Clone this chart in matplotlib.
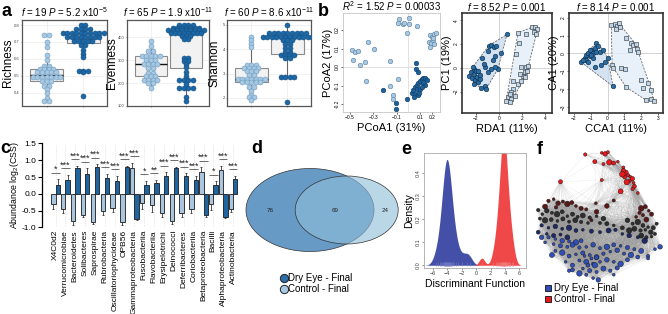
import numpy as np
import matplotlib
matplotlib.use('Agg')
import matplotlib.pyplot as plt
from matplotlib.patches import Ellipse, Polygon
from matplotlib.collections import LineCollection
from matplotlib.lines import Line2D

plt.rcParams['font.family'] = ['Liberation Sans', 'DejaVu Sans']
plt.rcParams['mathtext.fontset'] = 'custom'
plt.rcParams['mathtext.rm'] = 'Liberation Sans'
plt.rcParams['mathtext.it'] = 'Liberation Sans:italic'

# ---------------- data ----------------
# a: alpha diversity (control = light, dry eye = dark)
rich_ctrl = [0.74, 0.74, 0.70, 0.67, 0.62, 0.59, 0.56, 0.56, 0.54, 0.54, 0.54, 0.54,
             0.52, 0.52, 0.52, 0.52, 0.52, 0.49, 0.49, 0.49, 0.49, 0.49, 0.49, 0.49,
             0.47, 0.47, 0.47, 0.44, 0.44, 0.42, 0.40, 0.37, 0.35, 0.35]
rich_dry = [0.80] * 2 + [0.775] * 4 + [0.75] * 10 + [0.73] * 8 + [0.705] * 5 + [0.68] * 2 + \
           [0.65, 0.63, 0.61, 0.53, 0.53, 0.53, 0.52, 0.38]
even_ctrl = [385, 360, 340, 340] + [320] * 5 + [300] * 3 + [285] * 4 + [265] * 2 + [245] * 2 + \
            [230] * 3 + [215] * 4 + [200] * 2 + [180]
even_dry = [455] * 4 + [442] * 7 + [430] * 9 + [418] * 8 + [405] * 3 + [390] * 2 + \
           [310, 310, 298, 298, 285, 270, 250, 230, 215, 215, 215, 215, 197,
            178, 178, 178, 178, 140, 122]
shan_ctrl = [4.5, 4.37, 4.22, 4.08] + [3.36] * 3 + [3.25] * 4 + [3.1] * 3 + [2.95] * 2 + \
            [2.78] * 7 + [2.64] * 5 + [2.47] * 2 + [2.3, 2.13, 2.03, 2.03, 1.92]
shan_dry = [5.0] + [4.66] * 9 + [4.52] * 12 + [4.36] * 3 + [4.22] * 2 + [4.04] * 2 + \
           [3.9] * 2 + [3.77] * 4 + [3.63] * 2 + [2.85] * 4 + [1.85]
alpha_titles = [r'$\it{f}$ = 19 $\it{P}$ = 5.2 x10$^{-5}$',
                r'$\it{f}$ = 65 $\it{P}$ = 1.9 x10$^{-11}$',
                r'$\it{f}$ = 60 $\it{P}$ = 8.6 x10$^{-11}$']

# b: ordinations
pcoa_ctrl_x = [-0.077, 0.006, -0.085, -0.048, -0.037, 0.009, 0.077, -0.014, 0.185, 0.199,
               0.219, 0.236, 0.179, 0.193, 0.213, 0.185, 0.222, 0.208, -0.482, -0.454,
               -0.426, -0.468, -0.411, -0.369, -0.341, -0.292, -0.363, -0.156, -0.085,
               -0.156, -0.133, -0.128]
pcoa_ctrl_y = [0.258, 0.263, 0.236, 0.232, 0.236, 0.232, 0.221, 0.186, 0.173, 0.164,
               0.178, 0.182, 0.137, 0.128, 0.146, 0.110, 0.124, 0.155, 0.092, 0.083,
               0.088, 0.038, 0.011, 0.029, 0.137, 0.097, -0.076, 0.032, -0.065,
               -0.103, -0.151, -0.173]
pcoa_dry_x = [0.066, 0.066, 0.086, 0.029, 0.043, 0.057, 0.072, 0.086, 0.100, 0.114, 0.128,
              0.142, 0.157, 0.077, 0.057, 0.086, 0.100, 0.128, 0.142, 0.114, 0.094, 0.123,
              0.048, -0.218, -0.105, -0.105, -0.008]
pcoa_dry_y = [0.020, -0.013, -0.025, -0.138, -0.124, -0.110, -0.097, -0.085, -0.076, -0.067,
              -0.061, -0.058, -0.070, -0.121, -0.146, -0.151, -0.121, -0.088, -0.097, -0.106,
              -0.139, -0.079, -0.160, -0.124, -0.196, -0.229, -0.175]

rda_dry_x = [-2.55, -2.41, -2.35, -2.17, -2.12, -2.06, -1.97, -1.88, -1.83, -2.26, -1.68,
             -1.77, -1.60, -2.12, -1.54, -1.25, -0.96, -0.72, -1.25, -0.52, -0.90, -0.67,
             -0.46, -0.23, -0.96, -0.38, 0.19, 0.70, -0.09, -0.38, -1.30, -1.48, -1.10]
rda_dry_y = [-0.67, -0.39, -0.86, -0.11, -0.53, -1.03, -0.31, -0.75, -1.22, 0.08, -0.94,
             -0.25, -0.58, -1.36, -1.69, -1.50, -0.39, -0.11, 0.03, 0.64, 1.83, 1.92,
             1.75, 1.83, 1.42, 1.00, 1.28, 2.81, -0.11, 0.03, 0.31, 0.86, -1.78]
rda_ctrl_x = [1.65, 2.90, 3.10, 3.33, 3.04, 3.25, 2.38, 1.71, 1.51, 1.88, 2.23, 2.38, 2.46,
              2.09, 1.80, 1.65, 1.22, 1.01, 0.78, 1.07, 0.93, 0.64, 1.36, 0.93, 2.52, 2.23,
              1.94, 1.22]
rda_ctrl_y = [2.94, 3.42, 3.42, 3.22, 3.03, 2.86, 2.81, 2.11, 1.14, 0.08, -0.39, 0.03, -0.25,
              -0.67, -0.53, -1.36, -1.78, -2.06, -2.47, -2.61, -2.89, -2.75, -2.33, -2.19,
              0.17, -0.81, -1.08, -1.08]
cca_dry_x = [-1.57, -1.37, -1.27, -1.17, -1.07, -0.97, -0.87, -0.77, -0.67, -0.57, -0.67,
             -1.07, -1.27, -0.87, -0.48, -0.28, -1.47, -0.97, -1.17, -0.77, 0.33, -0.18,
             -0.38, 0.01]
cca_dry_y = [-0.50, -0.27, -0.08, 0.05, -0.17, 0.20, 0.01, 0.29, 0.61, 0.39, 0.10, 0.20,
             -0.36, -0.27, 0.10, 0.20, -0.36, -0.08, -0.46, -0.74, -1.86, -0.46, -0.65, -0.27]
cca_ctrl_x = [0.22, 0.42, 0.56, 0.67, 0.75, 0.48, 1.11, 1.41, 1.51, 1.67, 1.75, 1.80, 1.31,
              0.27, 0.35, 1.01, 1.99, 2.40, 2.60, 2.10, 2.26, 2.60, 2.74, 1.11, 0.81]
cca_ctrl_y = [1.60, 1.66, 1.54, 1.69, 1.51, 1.36, 0.85, 0.57, 0.48, 0.53, 0.23, 0.10, 0.20,
              -0.65, -0.83, -0.89, -1.49, -1.64, -2.05, -1.95, -2.61, -2.55, -2.65, -1.90, -0.83]

# c: differential abundance per class
taxa = ['X4C0d2', 'Verrucomicrobiae', 'Bacteroidetes', 'Solibacteres', 'Saprospirae',
        'Rubrobacteria', 'Oscillatoriophycideae', 'OPB56', 'Gammaproteobacteria',
        'Fusobacteriia', 'Flavobacteriia', 'Erysipelotrichi', 'Deinococci',
        'Deferribacteres', 'Coriobacteriia', 'Betaproteobacteria', 'Bacilli',
        'Alphaproteobacteria', 'Actinobacteria']
abund_ctrl = [-0.29, -0.46, -0.82, -0.63, -0.85, -0.50, -0.42, -0.84, 0.78, -0.27, -0.33,
              -0.56, -0.80, -0.58, -0.44, 0.66, -0.29, 0.72, -0.45]
abund_dry = [0.26, 0.40, 0.78, 0.59, 0.80, 0.46, 0.39, 0.80, -0.74, 0.26, 0.31, 0.52, 0.76,
             0.53, 0.41, -0.62, 0.27, -0.68, 0.43]
err_ctrl = [0.15, 0.10, 0.10, 0.06, 0.06, 0.13, 0.13, 0.08, 0.14, 0.18, 0.20, 0.12, 0.10,
            0.10, 0.14, 0.13, 0.20, 0.12, 0.08]
err_dry = [0.17, 0.17, 0.06, 0.17, 0.08, 0.13, 0.14, 0.04, 0.05, 0.12, 0.10, 0.12, 0.04,
           0.08, 0.13, 0.08, 0.10, 0.04, 0.10]
signif = ['*', '***', '***', '***', '***', '***', '***', '***', '***', '*', '**', '***',
          '***', '***', '***', '***', '*', '***', '***']

# d: shared OTUs
venn_counts = [76, 69, 24]
venn_labels = ['Dry Eye - Final', 'Control - Final']

# e: discriminant scores
lda_dry = [-5.6, -5.2, -4.95, -4.8, -4.65, -4.55, -4.45, -4.4, -4.35, -4.3, -4.25, -4.2,
           -4.15, -4.1, -4.05, -4.0, -4.0, -3.95, -3.9, -3.85, -3.8, -3.75, -3.7, -3.65,
           -3.6, -3.5, -3.4, -3.3, -3.15, -3.0, -2.8, -2.5, -1.9, -1.3, -0.9]
lda_ctrl = [0.8, 2.4, 2.75, 2.95, 3.05, 3.15, 3.25, 3.35, 3.4, 3.5, 3.55, 3.6, 3.65,
            3.7, 3.75, 3.78, 3.8, 3.82, 3.85, 3.88, 3.9, 3.95, 4.0, 4.05, 4.1, 4.2, 4.25,
            4.3, 4.4, 4.5, 4.6, 4.75, 4.9, 5.15]

# f: co-occurrence network layout (node positions per colour class)
net_red_x = [437, 485, 495, 503, 507, 520, 532, 465, 548, 555, 562, 568, 574, 566, 558, 552,
             578, 365, 485, 540, 575, 590, 548, 490, 545, 580]
net_red_y = [47, 42, 45, 40, 70, 72, 68, 68, 85, 100, 108, 112, 118, 125, 128, 113, 130, 127,
             122, 155, 148, 160, 95, 75, 105, 140]
net_dred_x = [330, 345, 358, 372, 385, 398, 410, 425, 440, 320, 352, 468, 500, 520, 600, 612,
              622, 630, 605, 615, 595, 585, 470, 455]
net_dred_y = [183, 178, 190, 185, 192, 188, 198, 205, 208, 200, 202, 190, 198, 182, 205, 200,
              212, 222, 225, 238, 218, 230, 215, 240]
net_black_x = [300, 312, 325, 340, 355, 370, 385, 400, 415, 430, 450, 470, 490, 305, 320, 338,
               356, 372, 390, 408, 425, 445, 560, 575, 590, 605, 620, 635, 645, 580, 598, 612,
               628, 640, 565, 545, 520, 500, 480, 600, 615, 630]
net_black_y = [210, 222, 212, 218, 222, 215, 228, 222, 230, 226, 232, 228, 235, 235, 240, 238,
               242, 236, 244, 240, 245, 248, 240, 250, 245, 255, 260, 262, 250, 265, 270, 268,
               275, 280, 270, 262, 255, 250, 248, 285, 290, 288]
net_navy_x = [310, 330, 350, 370, 390, 410, 430, 455, 480, 505, 525, 545, 565, 590, 610, 300,
              325, 345, 365, 385]
net_navy_y = [255, 262, 258, 265, 262, 270, 268, 272, 275, 270, 268, 280, 285, 290, 300, 275,
              280, 285, 282, 290]
net_blue_x = [330, 350, 370, 390, 410, 425, 345, 365, 385, 400, 420, 440, 460, 480, 500, 520,
              540, 560, 580, 600, 620, 640, 655, 350, 370, 390, 410, 430, 450, 470, 490, 510,
              530, 550, 570, 590, 380, 400, 420, 440, 460, 480, 500, 520, 540, 560, 430, 450,
              470, 490, 510, 460, 475, 440, 420, 400, 520, 530, 620, 340, 390, 320, 310, 455,
              465, 445, 435, 470]
net_blue_y = [290, 295, 300, 302, 305, 300, 310, 315, 318, 312, 320, 318, 312, 322, 318, 312,
              315, 320, 325, 330, 345, 325, 318, 330, 335, 345, 340, 336, 342, 348, 338, 332,
              328, 338, 342, 348, 362, 372, 358, 362, 368, 362, 356, 362, 368, 356, 382, 388,
              392, 382, 388, 410, 415, 400, 396, 386, 400, 380, 352, 342, 388, 305, 290, 352,
              372, 372, 345, 350]

# ---------------- style ----------------
LIGHT = '#a6c8e2'
DARK = '#1c67a6'
W, H = 668, 314
fig = plt.figure(figsize=(W / 100, H / 100), dpi=100)


def box(l, t, r, b):
    return [l / W, 1 - b / H, (r - l) / W, (b - t) / H]


def swarm_x(vals, center, step):
    vals = np.asarray(vals, float)
    xs = np.zeros_like(vals)
    for v in np.unique(vals):
        idx = np.where(vals == v)[0]
        n = len(idx)
        xs[idx] = center + (np.arange(n) - (n - 1) / 2) * step
    return xs


def hull(x, y):
    pts = sorted(set(zip(x, y)))

    def cross(o, a, b):
        return (a[0] - o[0]) * (b[1] - o[1]) - (a[1] - o[1]) * (b[0] - o[0])
    lower, upper = [], []
    for p in pts:
        while len(lower) >= 2 and cross(lower[-2], lower[-1], p) <= 0:
            lower.pop()
        lower.append(p)
    for p in reversed(pts):
        while len(upper) >= 2 and cross(upper[-2], upper[-1], p) <= 0:
            upper.pop()
        upper.append(p)
    return lower[:-1] + upper[:-1]


def kde(vals, grid, bw):
    v = np.asarray(vals)[:, None]
    return np.exp(-0.5 * ((grid[None, :] - v) / bw) ** 2).sum(0) / (len(vals) * bw * np.sqrt(2 * np.pi))


# ---------------- a ----------------
alpha_sets = [(rich_ctrl, rich_dry, 'Richness', (0.32, 0.83), [0.4, 0.5, 0.6, 0.7, 0.8]),
              (even_ctrl, even_dry, 'Evenness', (100, 475), [100, 200, 300, 400]),
              (shan_ctrl, shan_dry, 'Shannon', (1.67, 5.2), [2, 3, 4, 5])]
a_boxes = [(22, 107, 8), (127, 209, 112), (227, 311, 214)]
for (ctrl, dry, lab, yl, yt), (l, r, lab_c), title in zip(alpha_sets, a_boxes, alpha_titles):
    ax = fig.add_axes(box(l, 20, r, 106))
    ax.grid(color='#ebebeb', lw=0.5)
    ax.set_axisbelow(True)
    ax.boxplot([ctrl, dry], positions=[1, 2], widths=0.9, patch_artist=True,
               showfliers=False, whis=1.5,
               boxprops=dict(facecolor='#f2f2f2', edgecolor='#8a8a8a', lw=0.8),
               medianprops=dict(color='#111111', lw=1.0),
               whiskerprops=dict(color='#666666', lw=0.8), capprops=dict(lw=0))
    ax.scatter(swarm_x(ctrl, 1, 0.125), ctrl, s=13, color=LIGHT, edgecolor='#6f9cc0', lw=0.4, zorder=3)
    ax.scatter(swarm_x(dry, 2, 0.125), dry, s=13, color=DARK, edgecolor='#164f80', lw=0.4, zorder=3)
    ax.set_xlim(0.33, 2.65)
    ax.set_ylim(*yl)
    ax.set_yticks(yt)
    ax.set_xticks([1, 2])
    ax.set_xticklabels(['', ''])
    for s in ax.spines.values():
        s.set_color('#555555')
        s.set_linewidth(0.9)
    ax.tick_params(labelsize=3, length=1, width=0.4, pad=0.5, colors='#444444')
    ax.set_ylabel(lab, fontsize=8.5, va='center')
    ax.yaxis.set_label_coords((lab_c - l) / (r - l), 0.5)
    ax.set_title(title, fontsize=7, pad=2)

# ---------------- b ----------------
ax = fig.add_axes(box(343, 13, 440, 112))
ax.axhline(0, color='#dddddd', lw=0.6, zorder=0)
ax.axvline(0, color='#dddddd', lw=0.6, zorder=0)
ax.scatter(pcoa_ctrl_x, pcoa_ctrl_y, s=11, color=LIGHT, edgecolor='#5b7f9c', lw=0.4, zorder=3)
ax.scatter(pcoa_dry_x, pcoa_dry_y, s=11, color='#1c5f99', edgecolor='#123f66', lw=0.4, zorder=3)
ax.set_xlim(-0.556, 0.27)
ax.set_ylim(-0.243, 0.292)
ax.set_xticks([-0.5, -0.3, -0.1, 0.1, 0.2])
ax.set_yticks([-0.2, -0.1, 0.0, 0.1, 0.2])
ax.set_yticklabels(['-0.2', '-0.1', '0.0', '0.1', '0.2'], rotation=90, va='center')
ax.tick_params(labelsize=3.5, length=1.5, width=0.4, pad=1)
for s in ax.spines.values():
    s.set_color('#bbbbbb')
    s.set_linewidth(0.5)
ax.set_xlabel('PCoA1 (31%)', fontsize=8, labelpad=2)
ax.set_ylabel('PCoA2 (17%)', fontsize=8, labelpad=1)
ax.set_title(r'$\it{R}^2$ = 1.52 $\it{P}$ = 0.00033', fontsize=7, pad=1.5)

ord_sets = [(rda_dry_x, rda_dry_y, rda_ctrl_x, rda_ctrl_y, (462, 552), (-3.2, 4.6), (-3.8, 4.6),
             [-2, 0, 2, 4], [-2, 0, 2, 4], 'RDA1 (11%)', 'PC1 (19%)',
             r'$\it{f}$ = 8.52 $\it{P}$ = 0.001'),
            (cca_dry_x, cca_dry_y, cca_ctrl_x, cca_ctrl_y, (569, 663), (-2.3, 3.3), (-3.35, 2.27),
             [-2, -1, 0, 1, 2, 3], [-3, -2, -1, 0, 1, 2], 'CCA1 (11%)', 'CA1 (20%)',
             r'$\it{f}$ = 8.14 $\it{P}$ = 0.001')]
for dx, dy, cx, cy, (l, r), xl, yl, xt, yt, xlab, ylab, title in ord_sets:
    ax = fig.add_axes(box(l, 13, r, 113))
    ax.axhline(0, color='#cccccc', lw=0.6, zorder=0)
    ax.axvline(0, color='#cccccc', lw=0.6, zorder=0)
    ax.add_patch(Polygon(hull(dx, dy), closed=True, facecolor='#c9dcee', alpha=0.8,
                         edgecolor='#444444', ls=(0, (2.5, 1.5)), lw=0.6, zorder=1))
    ax.add_patch(Polygon(hull(cx, cy), closed=True, facecolor='#e3eef8', alpha=0.8,
                         edgecolor='#444444', ls=(0, (2.5, 1.5)), lw=0.6, zorder=1))
    ax.scatter(dx, dy, s=11, color='#2a6ba3', edgecolor='#0d2b45', lw=0.4, zorder=3)
    ax.scatter(cx, cy, s=9, marker='s', color='#bcd5ea', edgecolor='#2b2b2b', lw=0.4, zorder=3)
    ax.set_xlim(*xl)
    ax.set_ylim(*yl)
    ax.set_xticks(xt)
    ax.set_yticks(yt)
    ax.tick_params(labelsize=3.5, length=1.5, width=0.4, pad=1)
    plt.setp(ax.get_yticklabels(), rotation=90, va='center')
    for s in ax.spines.values():
        s.set_color('#333333')
        s.set_linewidth(1.2)
    ax.set_xlabel(xlab, fontsize=8, labelpad=2)
    ax.set_ylabel(ylab, fontsize=8, labelpad=1)
    ax.set_title(title, fontsize=7, pad=1.5)

# ---------------- c ----------------
cl, cr = 41.7, 241
ax = fig.add_axes(box(cl, 143.5, cr, 227.3))
pos = np.arange(len(taxa))
bw = 0.44
ax.bar(pos - bw / 2, abund_ctrl, bw, color='#a9c6de', edgecolor='#1a1a1a', lw=0.6, zorder=2)
ax.bar(pos + bw / 2, abund_dry, bw, color='#1f65a0', edgecolor='#1a1a1a', lw=0.6, zorder=2)
for xs, vals, errs in [(pos - bw / 2, abund_ctrl, err_ctrl), (pos + bw / 2, abund_dry, err_dry)]:
    v = np.array(vals)
    tip = v + np.sign(v) * np.array(errs)
    ax.vlines(xs, v, tip, color='#333333', lw=0.6, zorder=1)
    ax.hlines(tip, xs - 0.1, xs + 0.1, color='#333333', lw=0.6, zorder=1)
for i, st in enumerate(signif):
    top = max(abund_ctrl[i] + err_ctrl[i] * (abund_ctrl[i] > 0),
              abund_dry[i] + err_dry[i] * (abund_dry[i] > 0), 0) + 0.2
    ax.hlines(top, i - 0.42, i + 0.42, color='#333333', lw=0.5)
    ax.text(i, top - 0.04, st, ha='center', va='bottom', fontsize=6.5, color='#222222')
ax.set_xlim(-1.4, 18.8)
ax.set_ylim(-1.0, 1.5)
ax.set_yticks([-1.0, -0.5, 0.0, 0.5, 1.0, 1.5])
ax.set_yticklabels(['-1.0', '-0.5', '0.0', '0.5', '1.0', '1.5'])
ax.set_xticks(pos)
ax.set_xticklabels(taxa, rotation=90, fontsize=6.0)
ax.tick_params(axis='x', length=0, pad=2)
ax.tick_params(axis='y', labelsize=6, length=3, width=0.8, pad=1)
ax.grid(axis='x', ls=':', color='#cfcfcf', lw=0.5)
ax.set_axisbelow(True)
for k in ['top', 'right', 'bottom']:
    ax.spines[k].set_visible(False)
ax.spines['left'].set_bounds(-1.0, 1.5)
ax.spines['left'].set_linewidth(0.9)
ax.set_ylabel(r'Abundance log$_2$(CSS)', fontsize=6.3, va='center')
ax.yaxis.set_label_coords((15 - cl) / (cr - cl), 0.5)

# ---------------- d ----------------
ax = fig.add_axes(box(236, 140, 420, 305))
ax.set_xlim(236, 420)
ax.set_ylim(305, 140)
ax.axis('off')
ax.add_patch(Ellipse((310, 210), 128, 83, facecolor='#679bc6', edgecolor='#333333', lw=0.5))
ax.add_patch(Ellipse((346.7, 210), 103, 68, facecolor='#8fbedb', alpha=0.615, edgecolor='none'))
ax.add_patch(Ellipse((346.7, 210), 103, 68, facecolor='none', edgecolor='#333333', lw=0.5))
for xx, n in zip([270.5, 335, 385.5], venn_counts):
    ax.text(xx, 210, str(n), ha='center', va='center', fontsize=4.5, color='#222222')
hd = [Line2D([], [], marker='o', ls='', ms=6, markerfacecolor=c, markeredgecolor='#222222',
             markeredgewidth=0.7) for c in ['#2b6ea8', '#a6c8e2']]
fig.legend(hd, venn_labels, loc='upper left', bbox_to_anchor=(281 / W, 1 - 273 / H), frameon=False,
           fontsize=7, handlelength=0.6, handletextpad=0.1, labelspacing=0.15, borderaxespad=0,
           borderpad=0)

# ---------------- e ----------------
ax = fig.add_axes(box(424, 152.7, 526, 268))
for vals, col, rug, bwd in [(lda_dry, '#4450a8', '#6f78c4', 0.5), (lda_ctrl, '#f04848', '#f07a7a', 0.38)]:
    g = np.linspace(min(vals) - 3 * bwd, max(vals) + 3 * bwd, 400)
    d = kde(vals, g, bwd)
    ax.fill_between(g, 0, d, color=col, lw=0, zorder=2)
    ax.vlines(vals, -0.004, 0.012, color=rug, lw=0.4, zorder=3)
ax.set_xlim(-7.2, 6.9)
ax.set_ylim(-0.012, 0.49)
ax.set_xticks([-6, -4, -2, 0, 2, 4, 6])
ax.set_yticks([0.0, 0.1, 0.2, 0.3, 0.4])
ax.tick_params(labelsize=4, length=1.5, width=0.4, pad=1, colors='#444444')
plt.setp(ax.get_yticklabels(), rotation=90, va='center')
for s in ax.spines.values():
    s.set_color('#aaaaaa')
    s.set_linewidth(0.6)
ax.set_ylabel('Density', fontsize=7.5, labelpad=1)
ax.set_xlabel('Discriminant Function', fontsize=7.5, labelpad=2)

# ---------------- f ----------------
ax = fig.add_axes(box(533, 146, 667, 285))
ax.set_xlim(285, 675)
ax.set_ylim(430, 22)
ax.axis('off')
groups = [(net_red_x, net_red_y, '#e8191d'), (net_dred_x, net_dred_y, '#5c1818'),
          (net_black_x, net_black_y, '#2e2e2e'), (net_navy_x, net_navy_y, '#1e2a66'),
          (net_blue_x, net_blue_y, '#3050b8')]
allx = np.concatenate([g[0] for g in groups]).astype(float)
ally = np.concatenate([g[1] for g in groups]).astype(float)
dist = np.hypot(allx[:, None] - allx[None, :], ally[:, None] - ally[None, :])
ii, jj = np.where(np.triu(dist < 130, 1))
segs = [((allx[a], ally[a]), (allx[b], ally[b])) for a, b in zip(ii, jj)]
ax.add_collection(LineCollection(segs, colors='#9a9a9a', linewidths=0.25, alpha=0.25, zorder=1))
size_cycle = [6, 4, 11, 5, 16, 8, 4, 9, 5, 13]
for gx, gy, col in groups:
    sz = [size_cycle[k % len(size_cycle)] for k in range(len(gx))]
    ax.scatter(gx, gy, s=sz, color=col, edgecolor='#111111', lw=0.3, zorder=3)
hf = [Line2D([], [], marker='s', ls='', ms=5, markerfacecolor=c, markeredgecolor='#111111',
             markeredgewidth=0.6) for c in ['#2f4fb5', '#e8191d']]
fig.legend(hf, venn_labels, loc='upper left', bbox_to_anchor=(545 / W, 1 - 283 / H), frameon=False,
           fontsize=7, handlelength=0.6, handletextpad=0.3, labelspacing=0.1, borderaxespad=0,
           borderpad=0)

# ---------------- panel letters ----------------
for lt, x, y in [('a', 2, 3), ('b', 318, 3), ('c', 0, 140), ('d', 251, 140), ('e', 401, 141),
                 ('f', 537, 141)]:
    fig.text(x / W, 1 - y / H, lt, fontsize=13, fontweight='bold', va='top', ha='left')

fig.savefig('out.png', dpi=100)
